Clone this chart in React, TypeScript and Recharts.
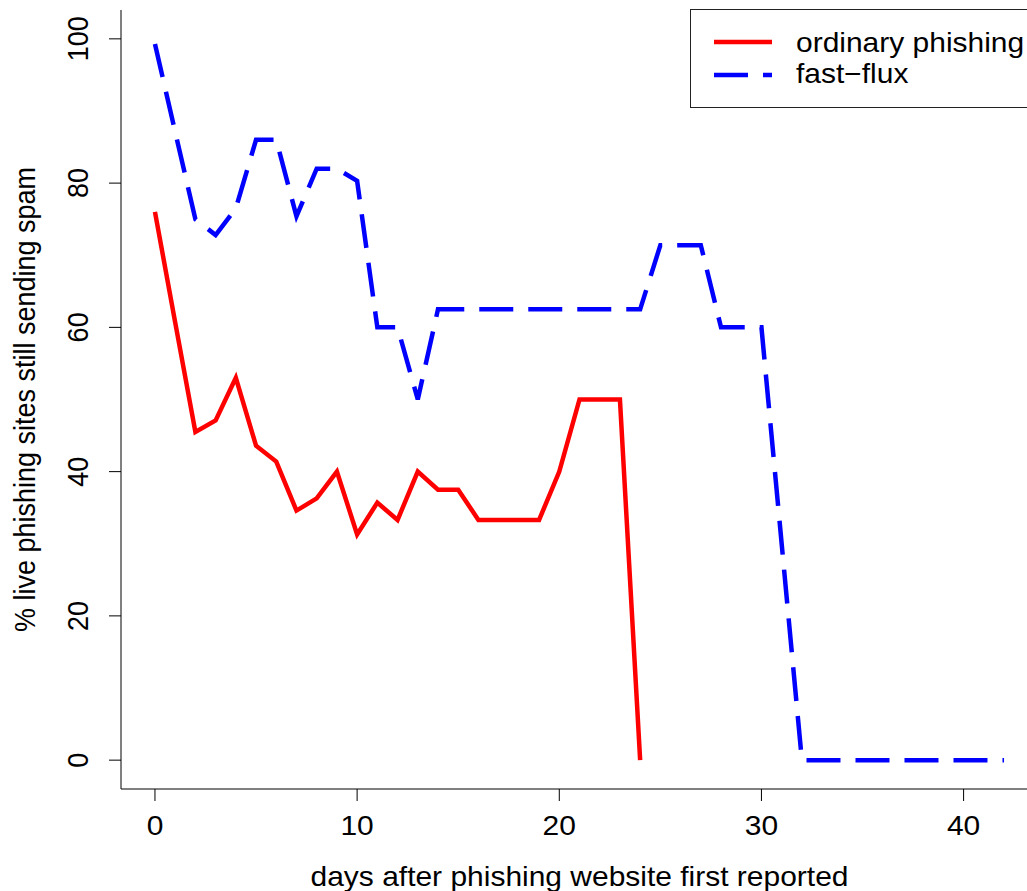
import { LineChart, Line, XAxis, YAxis, Legend, Label } from "recharts";

const days = [
  0, 1, 2, 3, 4, 5, 6, 7, 8, 9, 10, 11, 12, 13, 14, 15, 16, 17, 18, 19, 20,
  21, 22, 23, 24, 25, 26, 27, 28, 29, 30, 31, 32, 33, 34, 35, 36, 37, 38, 39,
  40, 41, 42,
];

// % of live sites still sending spam, per day
const ordinary = [
  76, 60.7, 45.5, 47.1, 53.0, 43.6, 41.4, 34.6, 36.3, 40.0, 31.3, 35.7, 33.3,
  40.0, 37.5, 37.5, 33.3, 33.3, 33.3, 33.3, 40.0, 50.0, 50.0, 50.0, 0,
];

const fastFlux = [
  99.3, 87.1, 75.0, 72.8, 76.5, 86.0, 86.0, 75.4, 82.0, 82.0, 80.3, 60.0, 60.0,
  50.0, 62.5, 62.5, 62.5, 62.5, 62.5, 62.5, 62.5, 62.5, 62.5, 62.5, 62.5, 71.4,
  71.4, 71.4, 60.0, 60.0, 60.0, 30.0, 0, 0, 0, 0, 0, 0, 0, 0, 0, 0, 0,
];

const xTicks = [0, 10, 20, 30, 40];
const yTicks = [0, 20, 40, 60, 80, 100];

const seriesNames = ["ordinary phishing", "fast\u2212flux"];
const seriesColors = ["#ff0000", "#0000ff"];
const seriesDash = [undefined, "34 15"];

const data = days.map((d, i) => ({
  day: d,
  ordinary: ordinary[i],
  fastFlux: fastFlux[i],
}));

const FONT = "'Liberation Sans', Arial, Helvetica, sans-serif";
const FS = 27;
const SX = 1.11; // the original text is a bit wider than it is tall

function Txt({ x, y, anchor = "middle", rotated = false, children }: any) {
  const t = `translate(${x}, ${y}) scale(${SX}, 1)${rotated ? " rotate(-90)" : ""}`;
  return (
    <text x={0} y={0} transform={t} textAnchor={anchor} fontFamily={FONT} fontSize={FS} fill="#000">
      {children}
    </text>
  );
}

function XTick(props: any) {
  const { x, y, payload } = props;
  return <Txt x={x} y={y + 32}>{payload.value}</Txt>;
}

function YTick(props: any) {
  const { x, y, payload } = props;
  return (
    <Txt x={x - 19} y={y} rotated>
      {payload.value}
    </Txt>
  );
}

function LegendBox() {
  return (
    <svg width={360} height={100} style={{ display: "block", overflow: "visible" }}>
      <rect x={0.5} y={0.5} width={400} height={98} fill="#fff" stroke="#222" strokeWidth={1} />
      {seriesNames.map((name, i) => (
        <g key={name}>
          <line
            x1={24}
            x2={82}
            y1={33 + i * 33}
            y2={33 + i * 33}
            stroke={seriesColors[i]}
            strokeWidth={4.5}
            strokeDasharray={seriesDash[i]}
          />
          <Txt x={106} y={43 + i * 31} anchor="start">
            {name}
          </Txt>
        </g>
      ))}
    </svg>
  );
}

export default function App() {
  return (
    <div
      style={{
        position: "absolute",
        left: 0,
        top: 0,
        width: 1027,
        height: 891,
        overflow: "hidden",
        background: "#fff",
      }}
    >
      <LineChart
        width={1050}
        height={891}
        data={data}
        margin={{ top: 10, right: 12, bottom: 0, left: 0 }}
      >
        <XAxis
          xAxisId="top"
          orientation="top"
          dataKey="day"
          type="number"
          domain={[-1.68, 43.68]}
          height={0}
          tick={false}
          tickLine={false}
          axisLine={{ stroke: "#000", strokeWidth: 1 }}
        />
        <XAxis
          dataKey="day"
          type="number"
          domain={[-1.68, 43.68]}
          ticks={xTicks}
          height={102}
          tickSize={12}
          tickMargin={2}
          tick={<XTick />}
          tickLine={{ stroke: "#000" }}
          axisLine={{ stroke: "#000", strokeWidth: 1 }}
          interval={0}
        >
          <Label
            content={(p: any) => {
              const vb = p.viewBox || { x: 121, y: 789, width: 917 };
              return (
                <Txt x={vb.x + vb.width / 2} y={vb.y + 97}>
                  days after phishing website first reported
                </Txt>
              );
            }}
          />
        </XAxis>
        <YAxis
          type="number"
          domain={[-4, 104]}
          ticks={yTicks}
          width={121}
          tickSize={12}
          tickMargin={2}
          tick={<YTick />}
          tickLine={{ stroke: "#000" }}
          axisLine={{ stroke: "#000", strokeWidth: 1 }}
          interval={0}
        >
          <Label
            content={(p: any) => {
              const vb = p.viewBox || { x: 0, y: 10, height: 779 };
              return (
                <Txt x={35} y={vb.y + vb.height / 2} rotated>
                  % live phishing sites still sending spam
                </Txt>
              );
            }}
          />
        </YAxis>
        <Legend
          layout="vertical"
          align="center"
          verticalAlign="middle"
          content={() => <LegendBox />}
          wrapperStyle={{ left: 690, top: 9, width: 360, height: 100 }}
        />
        <Line
          type="linear"
          dataKey="ordinary"
          name={seriesNames[0]}
          stroke={seriesColors[0]}
          strokeWidth={4.5}
          dot={false}
          activeDot={false}
          isAnimationActive={false}
        />
        <Line
          type="linear"
          dataKey="fastFlux"
          name={seriesNames[1]}
          stroke={seriesColors[1]}
          strokeWidth={4.5}
          strokeDasharray={seriesDash[1]}
          dot={false}
          activeDot={false}
          isAnimationActive={false}
        />
      </LineChart>
    </div>
  );
}
